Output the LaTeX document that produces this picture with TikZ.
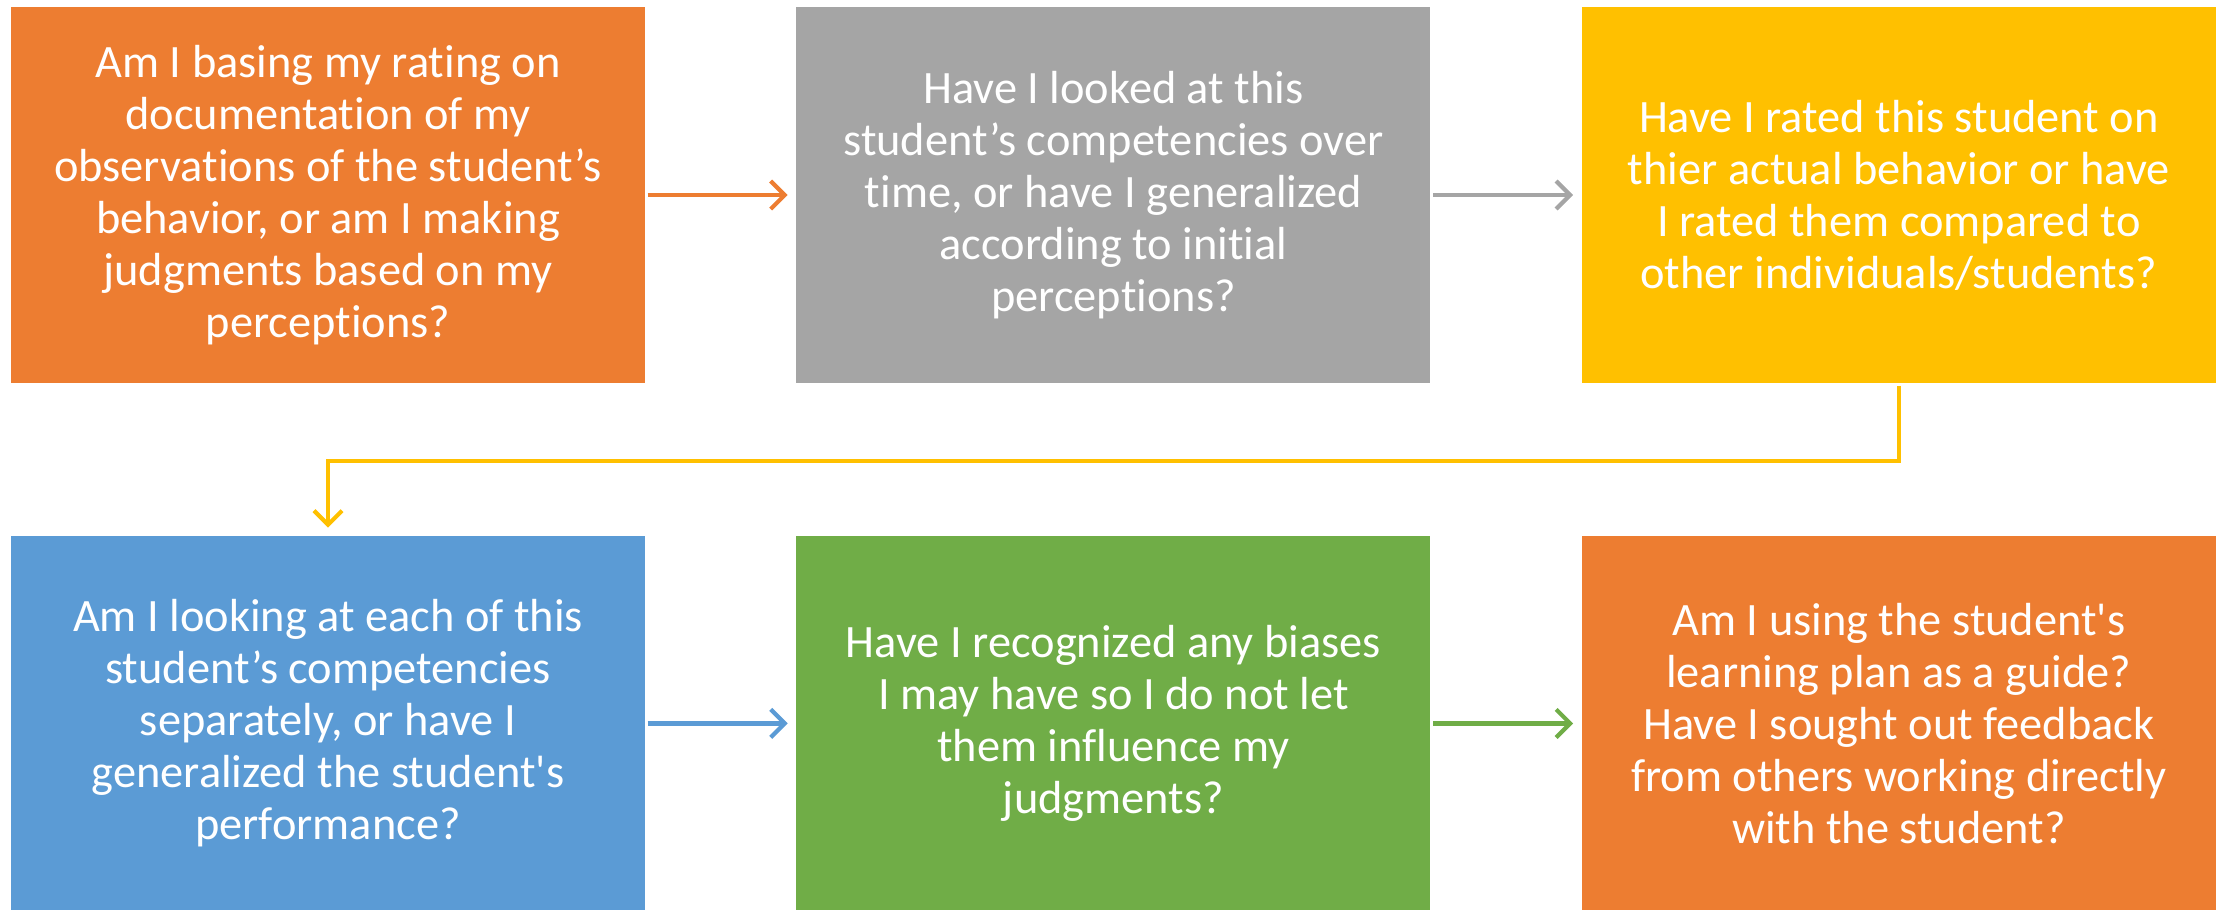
\documentclass[tikz,border=0pt]{standalone}
\usepackage{fontspec}
\setmainfont{Carlito}[Ligatures={TeX,NoCommon}]
\usetikzlibrary{arrows.meta,positioning}

\definecolor{qorange}{HTML}{ED7D31}
\definecolor{qgray}{HTML}{A5A5A5}
\definecolor{qyellow}{HTML}{FFC000}
\definecolor{qblue}{HTML}{5B9BD5}
\definecolor{qgreen}{HTML}{70AD47}
\newcommand{\qfont}{\fontsize{13.2}{14.8}\selectfont}
\newcommand{\sq}{\textquotesingle}

\begin{document}
\begin{tikzpicture}[
    node distance=1.5cm,
    box/.style={rectangle, minimum width=6.34cm, minimum height=3.76cm, inner sep=0pt,
                text=white, align=center, font=\qfont},
    link/.style={-{Straight Barb[length=1.4mm, width=2.8mm]}, line width=1.2pt,
                 shorten <=0.02cm, shorten >=0.08cm}
]
\useasboundingbox (0,0) rectangle (22.18,-9.09);

% Top row
\node[box, fill=qorange] (b1) at (3.28,-1.95) {Am I basing my rating on\\ documentation of my\\ observations of the student’s\\ behavior, or am I making\\ judgments based on my\\ perceptions?};
\node[box, fill=qgray, right=of b1] (b2) {Have I looked at this\\ student’s competencies over\\ time, or have I generalized\\ according to initial\\ perceptions?};
\node[box, fill=qyellow, right=of b2] (b3) {Have I rated this student on\\ thier actual behavior or have\\ I rated them compared to\\ other individuals/students?};

% Bottom row
\node[box, fill=qblue, minimum height=3.74cm, below=1.52cm of b1.south, anchor=north] (b4) {Am I looking at each of this\\ student’s competencies\\ separately, or have I\\ generalized the student\sq s\\ performance?};
\node[box, fill=qgreen, minimum height=3.74cm, right=of b4] (b5) {Have I recognized any biases\\ I may have so I do not let\\ them influence my\\ judgments?};
\node[box, fill=qorange, minimum height=3.74cm, right=of b5] (b6) {Am I using the student\sq s\\ learning plan as a guide?\\ Have I sought out feedback\\ from others working directly\\ with the student?};

% Arrows
\draw[link, qorange] (b1) -- (b2);
\draw[link, qgray] (b2) -- (b3);
\draw[link, qyellow] (b3.south) -- ++(0,-0.77) -| (b4.north);
\draw[link, qblue] (b4) -- (b5);
\draw[link, qgreen] (b5) -- (b6);

\end{tikzpicture}
\end{document}
